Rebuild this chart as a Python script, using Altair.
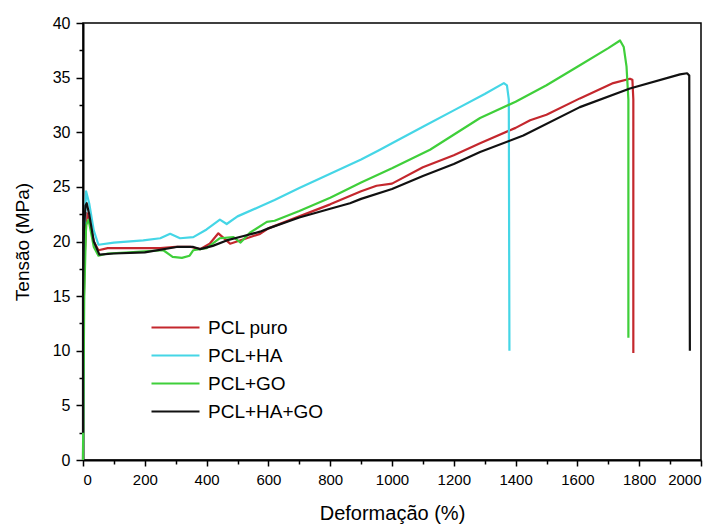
import altair as alt
import pandas as pd

series_names = ["PCL puro", "PCL+HA", "PCL+GO", "PCL+HA+GO"]
series_colors = ["#c4272d", "#45d6e6", "#3fcf3a", "#111111"]

red_x = [0, 3, 6, 12, 20, 35, 50, 80, 150, 250, 300, 350, 379, 410, 438, 476, 520, 573, 600, 700, 800, 900, 950, 1000, 1100, 1200, 1285, 1400, 1447, 1500, 1608, 1716, 1770, 1778, 1781, 1781]
red_y = [0, 15, 19, 22.6, 22.0, 20.0, 19.2, 19.4, 19.4, 19.4, 19.5, 19.5, 19.3, 19.8, 20.75, 19.8, 20.2, 20.7, 21.2, 22.3, 23.4, 24.6, 25.1, 25.3, 26.8, 27.9, 29.0, 30.4, 31.1, 31.6, 33.1, 34.5, 34.9, 34.8, 33.0, 9.8]

cyan_x = [0, 4, 10, 20, 35, 50, 100, 195, 250, 282, 314, 357, 400, 443, 465, 500, 573, 620, 700, 800, 900, 961, 1000, 1100, 1200, 1300, 1362, 1372, 1378, 1380]
cyan_y = [0, 20, 24.6, 23.5, 21, 19.7, 19.9, 20.1, 20.3, 20.7, 20.3, 20.4, 21.1, 22.0, 21.6, 22.3, 23.2, 23.8, 24.9, 26.2, 27.5, 28.4, 29.0, 30.5, 32.0, 33.5, 34.5, 34.3, 33.0, 10]

green_x = [0, 4, 10, 18, 35, 50, 80, 150, 200, 260, 290, 320, 345, 357, 400, 443, 487, 510, 540, 595, 620, 700, 800, 864, 900, 1000, 1123, 1285, 1400, 1500, 1600, 1700, 1738, 1750, 1759, 1765, 1765]
green_y = [0, 15, 21.5, 22, 19.5, 18.7, 18.9, 19.0, 19.1, 19.2, 18.6, 18.5, 18.7, 19.2, 19.4, 20.3, 20.4, 19.9, 20.8, 21.8, 21.9, 22.8, 24.0, 24.9, 25.4, 26.7, 28.4, 31.3, 32.8, 34.3, 36.0, 37.7, 38.4, 37.8, 36.0, 33.0, 11.2]

black_x = [0, 0, 3, 8, 12, 20, 35, 53, 100, 200, 303, 357, 379, 420, 465, 520, 573, 600, 700, 800, 864, 900, 1000, 1100, 1200, 1285, 1425, 1608, 1770, 1932, 1955, 1962, 1964]
black_y = [2.5, 15, 21, 23.3, 23.5, 22.5, 20, 18.8, 18.9, 19.0, 19.5, 19.5, 19.3, 19.6, 20.1, 20.5, 20.9, 21.2, 22.2, 23.0, 23.5, 23.9, 24.8, 26.0, 27.1, 28.2, 29.7, 32.3, 34.0, 35.3, 35.4, 35.2, 10]

x_ticks = list(range(0, 2001, 100))
y_ticks = [i * 2.5 for i in range(17)]

rows = []
for name, xs, ys in zip(series_names, [red_x, cyan_x, green_x, black_x], [red_y, cyan_y, green_y, black_y]):
    for i, (a, b) in enumerate(zip(xs, ys)):
        rows.append({"serie": name, "x": a, "y": b, "i": i})
df = pd.DataFrame(rows)

FONT = "Liberation Sans"

chart = alt.Chart(df).mark_line(strokeWidth=2.2, strokeJoin="round").encode(
    x=alt.X("x:Q", scale=alt.Scale(domain=[0, 2000], nice=False),
            axis=alt.Axis(title="Deformação (%)", values=x_ticks, format="d",
                          labelExpr="datum.value % 200 == 0 ? datum.label : ''",
                          tickSize={"condition": {"test": "datum.value % 200 == 0", "value": 6}, "value": 4},
                          labelFontSize=15, labelPadding=6,
                          titleFontSize=20, titlePadding=16)),
    y=alt.Y("y:Q", scale=alt.Scale(domain=[0, 40], nice=False),
            axis=alt.Axis(title="Tensão (MPa)", values=y_ticks, format="d",
                          labelExpr="datum.value % 5 == 0 ? datum.label : ''",
                          tickSize={"condition": {"test": "datum.value % 5 == 0", "value": 7}, "value": 4},
                          labelFontSize=16, labelPadding=6,
                          titleFontSize=19, titlePadding=20)),
    color=alt.Color("serie:N", scale=alt.Scale(domain=series_names, range=series_colors),
                    sort=series_names,
                    legend=alt.Legend(title=None, orient="none", legendX=83, legendY=295,
                                      symbolType="M-3,0H3", symbolSize=256, symbolStrokeWidth=2.2,
                                      labelFontSize=19, labelFont=FONT, labelColor="black",
                                      rowPadding=8, labelOffset=23)),
    detail="serie:N",
    order=alt.Order("i:Q"),
).properties(
    width=618, height=437,
    autosize=alt.AutoSizeParams(type="none"),
    padding={"left": 83, "top": 23, "right": 22, "bottom": 66},
).configure_view(
    stroke="black", strokeWidth=1.5
).configure_axis(
    domainColor="black", domainWidth=2, tickColor="black", tickWidth=1.5,
    labelFont=FONT, labelColor="black",
    titleFont=FONT, titleFontWeight="normal", titleColor="black",
    grid=False,
)

chart.save("out.html", embed_options={"renderer": "svg", "actions": False})
